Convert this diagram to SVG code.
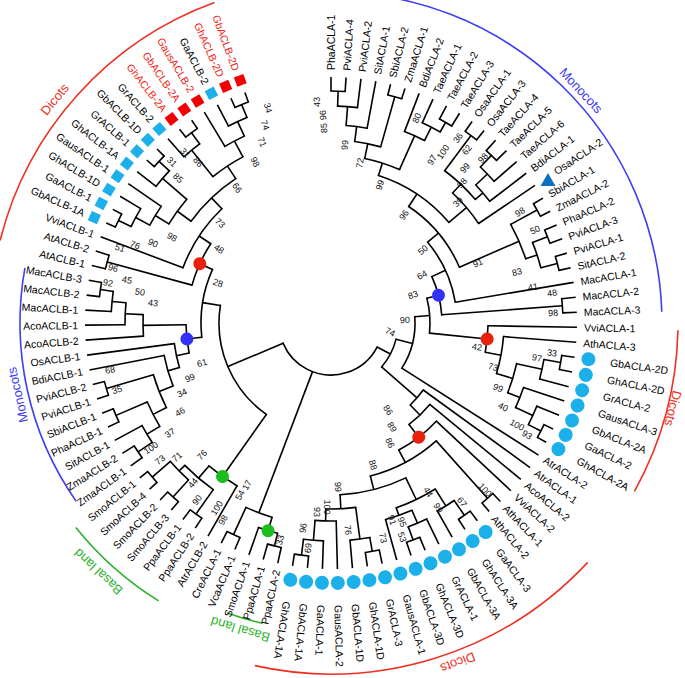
<svg xmlns="http://www.w3.org/2000/svg" width="685" height="678" viewBox="0 0 685 678">
<style>
.e path{fill:none;stroke:#000;stroke-width:1.6}
.a circle{fill:none;stroke:#000;stroke-width:1.6;stroke-linecap:square}
text{font-family:"Liberation Sans",Arial,sans-serif;dominant-baseline:central}
.lv text{font-size:10.5px;fill:#000}
.l{text-anchor:end}
.rd{fill:#ee1c14 !important}
.s text{font-size:9px;text-anchor:middle;fill:#111}
.gt{font-size:13px;text-anchor:middle;dominant-baseline:auto}
.ga{fill:none;stroke-width:1.6}
.cm{fill:#1cb0ea}
.dm{fill:#f20000}
</style>
<rect width="685" height="678" fill="#fff"/>
<g transform="translate(331,323)">
<g id="connectors">
<g class="e">
<path transform="rotate(117.55)" d="M0-52V-67"/>
<path transform="rotate(200.81)" d="M0-52V-203"/>
<path transform="rotate(247.1)" d="M0-52V-112"/>
<path transform="rotate(104.1)" d="M0-67V-84"/>
<path transform="rotate(130.99)" d="M0-67V-114"/>
<path transform="rotate(85.69)" d="M0-84V-99"/>
<path transform="rotate(122.5)" d="M0-84V-246"/>
<path transform="rotate(75.52)" d="M0-99V-111"/>
<path transform="rotate(95.87)" d="M0-99V-157"/>
<path transform="rotate(65.3)" d="M0-111V-126"/>
<path transform="rotate(85.75)" d="M0-111V-232"/>
<path transform="rotate(84)" d="M0-232V-246"/>
<path transform="rotate(87.5)" d="M0-232V-246"/>
<path transform="rotate(50.1)" d="M0-126V-140"/>
<path transform="rotate(80.5)" d="M0-126V-246"/>
<path transform="rotate(33.69)" d="M0-140V-155"/>
<path transform="rotate(66.5)" d="M0-140V-205"/>
<path transform="rotate(17.83)" d="M0-155V-168"/>
<path transform="rotate(49.55)" d="M0-155V-178"/>
<path transform="rotate(11.59)" d="M0-168V-183"/>
<path transform="rotate(24.06)" d="M0-168V-205"/>
<path transform="rotate(7.44)" d="M0-183V-198"/>
<path transform="rotate(15.75)" d="M0-183V-235"/>
<path transform="rotate(4.375)" d="M0-198V-217"/>
<path transform="rotate(10.5)" d="M0-198V-246"/>
<path transform="rotate(1.75)" d="M0-217V-232"/>
<path transform="rotate(7)" d="M0-217V-246"/>
<path transform="rotate(0)" d="M0-232V-246"/>
<path transform="rotate(3.5)" d="M0-232V-246"/>
<path transform="rotate(14)" d="M0-235V-246"/>
<path transform="rotate(17.5)" d="M0-235V-246"/>
<path transform="rotate(21)" d="M0-205V-246"/>
<path transform="rotate(27.125)" d="M0-205V-220"/>
<path transform="rotate(24.5)" d="M0-220V-246"/>
<path transform="rotate(29.75)" d="M0-220V-231"/>
<path transform="rotate(28)" d="M0-231V-246"/>
<path transform="rotate(31.5)" d="M0-231V-246"/>
<path transform="rotate(43.09)" d="M0-178V-190"/>
<path transform="rotate(56)" d="M0-178V-246"/>
<path transform="rotate(36.75)" d="M0-190V-234"/>
<path transform="rotate(49.44)" d="M0-190V-200"/>
<path transform="rotate(35)" d="M0-234V-246"/>
<path transform="rotate(38.5)" d="M0-234V-246"/>
<path transform="rotate(46.375)" d="M0-200V-216"/>
<path transform="rotate(52.5)" d="M0-200V-246"/>
<path transform="rotate(43.75)" d="M0-216V-232"/>
<path transform="rotate(49)" d="M0-216V-246"/>
<path transform="rotate(42)" d="M0-232V-246"/>
<path transform="rotate(45.5)" d="M0-232V-246"/>
<path transform="rotate(61.25)" d="M0-205V-235"/>
<path transform="rotate(71.75)" d="M0-205V-217"/>
<path transform="rotate(59.5)" d="M0-235V-246"/>
<path transform="rotate(63)" d="M0-235V-246"/>
<path transform="rotate(68.25)" d="M0-217V-233"/>
<path transform="rotate(75.25)" d="M0-217V-234"/>
<path transform="rotate(66.5)" d="M0-233V-246"/>
<path transform="rotate(70)" d="M0-233V-246"/>
<path transform="rotate(73.5)" d="M0-234V-246"/>
<path transform="rotate(77)" d="M0-234V-246"/>
<path transform="rotate(91)" d="M0-157V-246"/>
<path transform="rotate(100.73)" d="M0-157V-173"/>
<path transform="rotate(94.5)" d="M0-173V-246"/>
<path transform="rotate(106.97)" d="M0-173V-190"/>
<path transform="rotate(102.375)" d="M0-190V-216"/>
<path transform="rotate(111.56)" d="M0-190V-203"/>
<path transform="rotate(99.75)" d="M0-216V-233"/>
<path transform="rotate(105)" d="M0-216V-246"/>
<path transform="rotate(98)" d="M0-233V-246"/>
<path transform="rotate(101.5)" d="M0-233V-246"/>
<path transform="rotate(108.5)" d="M0-203V-246"/>
<path transform="rotate(114.625)" d="M0-203V-222"/>
<path transform="rotate(112)" d="M0-222V-246"/>
<path transform="rotate(117.25)" d="M0-222V-236"/>
<path transform="rotate(115.5)" d="M0-236V-246"/>
<path transform="rotate(119)" d="M0-236V-246"/>
<path transform="rotate(126)" d="M0-114V-246"/>
<path transform="rotate(135.98)" d="M0-114V-128"/>
<path transform="rotate(129.5)" d="M0-128V-246"/>
<path transform="rotate(142.46)" d="M0-128V-144"/>
<path transform="rotate(133)" d="M0-144V-246"/>
<path transform="rotate(151.92)" d="M0-144V-158"/>
<path transform="rotate(138.25)" d="M0-158V-235"/>
<path transform="rotate(165.59)" d="M0-158V-172"/>
<path transform="rotate(136.5)" d="M0-235V-246"/>
<path transform="rotate(140)" d="M0-235V-246"/>
<path transform="rotate(154.22)" d="M0-172V-196"/>
<path transform="rotate(176.97)" d="M0-172V-186"/>
<path transform="rotate(147.875)" d="M0-196V-216"/>
<path transform="rotate(160.5625)" d="M0-196V-204"/>
<path transform="rotate(145.25)" d="M0-216V-234"/>
<path transform="rotate(150.5)" d="M0-216V-246"/>
<path transform="rotate(143.5)" d="M0-234V-246"/>
<path transform="rotate(147)" d="M0-234V-246"/>
<path transform="rotate(156.625)" d="M0-204V-218"/>
<path transform="rotate(164.5)" d="M0-204V-246"/>
<path transform="rotate(154)" d="M0-218V-246"/>
<path transform="rotate(159.25)" d="M0-218V-232"/>
<path transform="rotate(157.5)" d="M0-232V-246"/>
<path transform="rotate(161)" d="M0-232V-246"/>
<path transform="rotate(172.375)" d="M0-186V-218"/>
<path transform="rotate(181.5625)" d="M0-186V-198"/>
<path transform="rotate(169.75)" d="M0-218V-232"/>
<path transform="rotate(175)" d="M0-218V-246"/>
<path transform="rotate(168)" d="M0-232V-246"/>
<path transform="rotate(171.5)" d="M0-232V-246"/>
<path transform="rotate(178.5)" d="M0-198V-246"/>
<path transform="rotate(184.625)" d="M0-198V-218"/>
<path transform="rotate(182)" d="M0-218V-246"/>
<path transform="rotate(187.25)" d="M0-218V-234"/>
<path transform="rotate(185.5)" d="M0-234V-246"/>
<path transform="rotate(189)" d="M0-234V-246"/>
<path transform="rotate(196.875)" d="M0-203V-217"/>
<path transform="rotate(204.75)" d="M0-203V-233"/>
<path transform="rotate(194.25)" d="M0-217V-230"/>
<path transform="rotate(199.5)" d="M0-217V-246"/>
<path transform="rotate(192.5)" d="M0-230V-246"/>
<path transform="rotate(196)" d="M0-230V-246"/>
<path transform="rotate(203)" d="M0-233V-246"/>
<path transform="rotate(206.5)" d="M0-233V-246"/>
<path transform="rotate(215.25)" d="M0-112V-188"/>
<path transform="rotate(279)" d="M0-112V-130"/>
<path transform="rotate(210)" d="M0-188V-246"/>
<path transform="rotate(220.5)" d="M0-188V-204"/>
<path transform="rotate(215.25)" d="M0-204V-234"/>
<path transform="rotate(225.75)" d="M0-204V-212"/>
<path transform="rotate(213.5)" d="M0-234V-246"/>
<path transform="rotate(217)" d="M0-234V-246"/>
<path transform="rotate(222.25)" d="M0-212V-235"/>
<path transform="rotate(229.25)" d="M0-212V-236"/>
<path transform="rotate(220.5)" d="M0-235V-246"/>
<path transform="rotate(224)" d="M0-235V-246"/>
<path transform="rotate(227.5)" d="M0-236V-246"/>
<path transform="rotate(231)" d="M0-236V-246"/>
<path transform="rotate(263.68)" d="M0-130V-145"/>
<path transform="rotate(294.33)" d="M0-130V-144"/>
<path transform="rotate(258.07)" d="M0-145V-158"/>
<path transform="rotate(269.28)" d="M0-145V-188"/>
<path transform="rotate(253.64)" d="M0-158V-170"/>
<path transform="rotate(262.5)" d="M0-158V-246"/>
<path transform="rotate(248.28)" d="M0-170V-185"/>
<path transform="rotate(259)" d="M0-170V-246"/>
<path transform="rotate(242.81)" d="M0-185V-200"/>
<path transform="rotate(253.75)" d="M0-185V-234"/>
<path transform="rotate(238.875)" d="M0-200V-215"/>
<path transform="rotate(246.75)" d="M0-200V-234"/>
<path transform="rotate(236.25)" d="M0-215V-232"/>
<path transform="rotate(241.5)" d="M0-215V-246"/>
<path transform="rotate(234.5)" d="M0-232V-246"/>
<path transform="rotate(238)" d="M0-232V-246"/>
<path transform="rotate(245)" d="M0-234V-246"/>
<path transform="rotate(248.5)" d="M0-234V-246"/>
<path transform="rotate(252)" d="M0-234V-246"/>
<path transform="rotate(255.5)" d="M0-234V-246"/>
<path transform="rotate(266)" d="M0-188V-246"/>
<path transform="rotate(272.56)" d="M0-188V-206"/>
<path transform="rotate(269.5)" d="M0-206V-246"/>
<path transform="rotate(275.625)" d="M0-206V-220"/>
<path transform="rotate(273)" d="M0-220V-246"/>
<path transform="rotate(278.25)" d="M0-220V-233"/>
<path transform="rotate(276.5)" d="M0-233V-246"/>
<path transform="rotate(280)" d="M0-233V-246"/>
<path transform="rotate(285.25)" d="M0-144V-232"/>
<path transform="rotate(303.4)" d="M0-144V-158"/>
<path transform="rotate(283.5)" d="M0-232V-246"/>
<path transform="rotate(287)" d="M0-232V-246"/>
<path transform="rotate(290.5)" d="M0-158V-246"/>
<path transform="rotate(316.31)" d="M0-158V-173"/>
<path transform="rotate(306.03)" d="M0-173V-190"/>
<path transform="rotate(326.59)" d="M0-173V-188"/>
<path transform="rotate(301.44)" d="M0-190V-206"/>
<path transform="rotate(310.625)" d="M0-190V-222"/>
<path transform="rotate(298.375)" d="M0-206V-222"/>
<path transform="rotate(304.5)" d="M0-206V-246"/>
<path transform="rotate(295.75)" d="M0-222V-236"/>
<path transform="rotate(301)" d="M0-222V-246"/>
<path transform="rotate(294)" d="M0-236V-246"/>
<path transform="rotate(297.5)" d="M0-236V-246"/>
<path transform="rotate(308)" d="M0-222V-246"/>
<path transform="rotate(313.25)" d="M0-222V-236"/>
<path transform="rotate(311.5)" d="M0-236V-246"/>
<path transform="rotate(315)" d="M0-236V-246"/>
<path transform="rotate(321.125)" d="M0-188V-222"/>
<path transform="rotate(332.06)" d="M0-188V-206"/>
<path transform="rotate(318.5)" d="M0-222V-246"/>
<path transform="rotate(323.75)" d="M0-222V-236"/>
<path transform="rotate(322)" d="M0-236V-246"/>
<path transform="rotate(325.5)" d="M0-236V-246"/>
<path transform="rotate(329)" d="M0-206V-246"/>
<path transform="rotate(335.125)" d="M0-206V-222"/>
<path transform="rotate(332.5)" d="M0-222V-246"/>
<path transform="rotate(337.75)" d="M0-222V-236"/>
<path transform="rotate(336)" d="M0-236V-246"/>
<path transform="rotate(339.5)" d="M0-236V-246"/>
</g>
<g class="a">
<circle r="52" transform="rotate(27.55)" stroke-dasharray="117.58 3000"/>
<circle r="67" transform="rotate(14.1)" stroke-dasharray="31.44 3000"/>
<circle r="84" transform="rotate(-4.31)" stroke-dasharray="53.97 3000"/>
<circle r="99" transform="rotate(-14.48)" stroke-dasharray="35.16 3000"/>
<circle r="111" transform="rotate(-24.7)" stroke-dasharray="39.62 3000"/>
<circle r="232" transform="rotate(-6)" stroke-dasharray="14.17 3000"/>
<circle r="126" transform="rotate(-39.9)" stroke-dasharray="66.85 3000"/>
<circle r="140" transform="rotate(-56.31)" stroke-dasharray="80.17 3000"/>
<circle r="155" transform="rotate(-72.17)" stroke-dasharray="85.81 3000"/>
<circle r="168" transform="rotate(-78.41)" stroke-dasharray="36.56 3000"/>
<circle r="183" transform="rotate(-82.56)" stroke-dasharray="26.54 3000"/>
<circle r="198" transform="rotate(-85.625)" stroke-dasharray="21.17 3000"/>
<circle r="217" transform="rotate(-88.25)" stroke-dasharray="19.88 3000"/>
<circle r="232" transform="rotate(-90)" stroke-dasharray="14.17 3000"/>
<circle r="235" transform="rotate(-76)" stroke-dasharray="14.36 3000"/>
<circle r="205" transform="rotate(-69)" stroke-dasharray="21.91 3000"/>
<circle r="220" transform="rotate(-65.5)" stroke-dasharray="20.16 3000"/>
<circle r="231" transform="rotate(-62)" stroke-dasharray="14.11 3000"/>
<circle r="178" transform="rotate(-46.91)" stroke-dasharray="40.11 3000"/>
<circle r="190" transform="rotate(-53.25)" stroke-dasharray="42.08 3000"/>
<circle r="234" transform="rotate(-55)" stroke-dasharray="14.29 3000"/>
<circle r="200" transform="rotate(-43.625)" stroke-dasharray="21.38 3000"/>
<circle r="216" transform="rotate(-46.25)" stroke-dasharray="19.79 3000"/>
<circle r="232" transform="rotate(-48)" stroke-dasharray="14.17 3000"/>
<circle r="205" transform="rotate(-28.75)" stroke-dasharray="37.57 3000"/>
<circle r="235" transform="rotate(-30.5)" stroke-dasharray="14.36 3000"/>
<circle r="217" transform="rotate(-21.75)" stroke-dasharray="26.51 3000"/>
<circle r="233" transform="rotate(-23.5)" stroke-dasharray="14.23 3000"/>
<circle r="234" transform="rotate(-16.5)" stroke-dasharray="14.29 3000"/>
<circle r="157" transform="rotate(1)" stroke-dasharray="26.66 3000"/>
<circle r="173" transform="rotate(4.5)" stroke-dasharray="37.65 3000"/>
<circle r="190" transform="rotate(12.375)" stroke-dasharray="30.46 3000"/>
<circle r="216" transform="rotate(9.75)" stroke-dasharray="19.79 3000"/>
<circle r="233" transform="rotate(8)" stroke-dasharray="14.23 3000"/>
<circle r="203" transform="rotate(18.5)" stroke-dasharray="21.7 3000"/>
<circle r="222" transform="rotate(22)" stroke-dasharray="20.34 3000"/>
<circle r="236" transform="rotate(25.5)" stroke-dasharray="14.42 3000"/>
<circle r="114" transform="rotate(36)" stroke-dasharray="19.86 3000"/>
<circle r="128" transform="rotate(39.5)" stroke-dasharray="28.95 3000"/>
<circle r="144" transform="rotate(43)" stroke-dasharray="47.55 3000"/>
<circle r="158" transform="rotate(48.25)" stroke-dasharray="75.39 3000"/>
<circle r="235" transform="rotate(46.5)" stroke-dasharray="14.36 3000"/>
<circle r="172" transform="rotate(64.22)" stroke-dasharray="68.29 3000"/>
<circle r="196" transform="rotate(57.875)" stroke-dasharray="43.4 3000"/>
<circle r="216" transform="rotate(55.25)" stroke-dasharray="19.79 3000"/>
<circle r="234" transform="rotate(53.5)" stroke-dasharray="14.29 3000"/>
<circle r="204" transform="rotate(66.625)" stroke-dasharray="28.04 3000"/>
<circle r="218" transform="rotate(64)" stroke-dasharray="19.98 3000"/>
<circle r="232" transform="rotate(67.5)" stroke-dasharray="14.17 3000"/>
<circle r="186" transform="rotate(82.375)" stroke-dasharray="29.83 3000"/>
<circle r="218" transform="rotate(79.75)" stroke-dasharray="19.98 3000"/>
<circle r="232" transform="rotate(78)" stroke-dasharray="14.17 3000"/>
<circle r="198" transform="rotate(88.5)" stroke-dasharray="21.17 3000"/>
<circle r="218" transform="rotate(92)" stroke-dasharray="19.98 3000"/>
<circle r="234" transform="rotate(95.5)" stroke-dasharray="14.29 3000"/>
<circle r="203" transform="rotate(106.875)" stroke-dasharray="27.9 3000"/>
<circle r="217" transform="rotate(104.25)" stroke-dasharray="19.88 3000"/>
<circle r="230" transform="rotate(102.5)" stroke-dasharray="14.05 3000"/>
<circle r="233" transform="rotate(113)" stroke-dasharray="14.23 3000"/>
<circle r="112" transform="rotate(125.25)" stroke-dasharray="124.62 3000"/>
<circle r="188" transform="rotate(120)" stroke-dasharray="34.45 3000"/>
<circle r="204" transform="rotate(125.25)" stroke-dasharray="37.38 3000"/>
<circle r="234" transform="rotate(123.5)" stroke-dasharray="14.29 3000"/>
<circle r="212" transform="rotate(132.25)" stroke-dasharray="25.9 3000"/>
<circle r="235" transform="rotate(130.5)" stroke-dasharray="14.36 3000"/>
<circle r="236" transform="rotate(137.5)" stroke-dasharray="14.42 3000"/>
<circle r="130" transform="rotate(173.68)" stroke-dasharray="69.54 3000"/>
<circle r="145" transform="rotate(168.07)" stroke-dasharray="28.37 3000"/>
<circle r="158" transform="rotate(163.64)" stroke-dasharray="24.43 3000"/>
<circle r="170" transform="rotate(158.28)" stroke-dasharray="31.81 3000"/>
<circle r="185" transform="rotate(152.81)" stroke-dasharray="35.32 3000"/>
<circle r="200" transform="rotate(148.875)" stroke-dasharray="27.49 3000"/>
<circle r="215" transform="rotate(146.25)" stroke-dasharray="19.7 3000"/>
<circle r="232" transform="rotate(144.5)" stroke-dasharray="14.17 3000"/>
<circle r="234" transform="rotate(155)" stroke-dasharray="14.29 3000"/>
<circle r="234" transform="rotate(162)" stroke-dasharray="14.29 3000"/>
<circle r="188" transform="rotate(176)" stroke-dasharray="21.52 3000"/>
<circle r="206" transform="rotate(179.5)" stroke-dasharray="22.02 3000"/>
<circle r="220" transform="rotate(183)" stroke-dasharray="20.16 3000"/>
<circle r="233" transform="rotate(186.5)" stroke-dasharray="14.23 3000"/>
<circle r="144" transform="rotate(195.25)" stroke-dasharray="45.62 3000"/>
<circle r="232" transform="rotate(193.5)" stroke-dasharray="14.17 3000"/>
<circle r="158" transform="rotate(200.5)" stroke-dasharray="71.17 3000"/>
<circle r="173" transform="rotate(216.03)" stroke-dasharray="62.08 3000"/>
<circle r="190" transform="rotate(211.44)" stroke-dasharray="30.46 3000"/>
<circle r="206" transform="rotate(208.375)" stroke-dasharray="22.02 3000"/>
<circle r="222" transform="rotate(205.75)" stroke-dasharray="20.34 3000"/>
<circle r="236" transform="rotate(204)" stroke-dasharray="14.42 3000"/>
<circle r="222" transform="rotate(218)" stroke-dasharray="20.34 3000"/>
<circle r="236" transform="rotate(221.5)" stroke-dasharray="14.42 3000"/>
<circle r="188" transform="rotate(231.125)" stroke-dasharray="35.88 3000"/>
<circle r="222" transform="rotate(228.5)" stroke-dasharray="20.34 3000"/>
<circle r="236" transform="rotate(232)" stroke-dasharray="14.42 3000"/>
<circle r="206" transform="rotate(239)" stroke-dasharray="22.02 3000"/>
<circle r="222" transform="rotate(242.5)" stroke-dasharray="20.34 3000"/>
<circle r="236" transform="rotate(246)" stroke-dasharray="14.42 3000"/>
</g>
</g>
<g id="group-arcs">
<circle class="ga" stroke="#ee3124" r="341" transform="rotate(194)" stroke-dasharray="333.3 3000"/>
<text class="gt" fill="#ee3124" transform="rotate(309)" y="-351">Dicots</text>
<circle class="ga" stroke="#3d3df2" r="331" transform="rotate(-90)" stroke-dasharray="508.4 3000"/>
<text class="gt" fill="#3d3df2" transform="rotate(47.1)" y="-337">Monocots</text>
<circle class="ga" stroke="#ee3124" r="347" transform="rotate(1.2)" stroke-dasharray="168.4 3000"/>
<text class="gt" fill="#ee3124" transform="rotate(104)" y="-348">Dicots</text>
<circle class="ga" stroke="#ee3124" r="351" transform="rotate(43)" stroke-dasharray="364.5 3000"/>
<text class="gt" fill="#ee3124" transform="rotate(159.5)" y="-358">Dicots</text>
<circle class="ga" stroke="#3d3df2" r="311" transform="rotate(145)" stroke-dasharray="245.3 3000"/>
<text class="gt" fill="#3d3df2" transform="rotate(257.1)" y="-317">Monocots</text>
<circle class="ga" stroke="#2db22d" r="327" transform="rotate(121.8)" stroke-dasharray="111.3 3000"/>
<text class="gt" fill="#2db22d" transform="rotate(223.1)" y="-336">Basal land</text>
<circle class="ga" stroke="#2db22d" r="308" transform="rotate(102.8)" stroke-dasharray="37.1 3000"/>
<text class="gt" fill="#2db22d" transform="rotate(196.5)" y="-315">Basal land</text>
</g>
<g id="node-markers">
<g id="dot-monoA"><circle r="6.5" cy="-111" transform="rotate(75.52)" fill="#3131f7"/></g>
<g id="dot-dicA1"><circle r="6.5" cy="-157" transform="rotate(95.87)" fill="#e8200c"/></g>
<g id="dot-dicA2"><circle r="6.5" cy="-144" transform="rotate(142.46)" fill="#e8200c"/></g>
<g id="dot-basalA"><circle r="6.5" cy="-217" transform="rotate(196.875)" fill="#1ebd1e"/></g>
<g id="dot-basalB"><circle r="6.5" cy="-188" transform="rotate(215.25)" fill="#1ebd1e"/></g>
<g id="dot-monoB"><circle r="6.5" cy="-145" transform="rotate(263.68)" fill="#3131f7"/></g>
<g id="dot-dicB"><circle r="6.5" cy="-144" transform="rotate(294.33)" fill="#e8200c"/></g>
</g>
<g id="leaves" class="lv">
<g id="PhaACLA-1"><text transform="rotate(-90)" x="253">PhaACLA-1</text></g>
<g id="PviACLA-4"><text transform="rotate(-86.5)" x="253">PviACLA-4</text></g>
<g id="PviACLA-2"><text transform="rotate(-83)" x="253">PviACLA-2</text></g>
<g id="SitACLA-1"><text transform="rotate(-79.5)" x="253">SitACLA-1</text></g>
<g id="SbiACLA-2"><text transform="rotate(-76)" x="253">SbiACLA-2</text></g>
<g id="ZmaACLA-1"><text transform="rotate(-72.5)" x="253">ZmaACLA-1</text></g>
<g id="BdiACLA-2"><text transform="rotate(-69)" x="253">BdiACLA-2</text></g>
<g id="TaeACLA-1"><text transform="rotate(-65.5)" x="253">TaeACLA-1</text></g>
<g id="TaeACLA-2"><text transform="rotate(-62)" x="253">TaeACLA-2</text></g>
<g id="TaeACLA-3"><text transform="rotate(-58.5)" x="253">TaeACLA-3</text></g>
<g id="OsaACLA-1"><text transform="rotate(-55)" x="253">OsaACLA-1</text></g>
<g id="OsaACLA-3"><text transform="rotate(-51.5)" x="253">OsaACLA-3</text></g>
<g id="TaeACLA-4"><text transform="rotate(-48)" x="253">TaeACLA-4</text></g>
<g id="TaeACLA-5"><text transform="rotate(-44.5)" x="253">TaeACLA-5</text></g>
<g id="TaeACLA-6"><text transform="rotate(-41)" x="253">TaeACLA-6</text></g>
<g id="BdiACLA-1"><text transform="rotate(-37.5)" x="253">BdiACLA-1</text></g>
<g id="OsaACLA-2"><polygon points="217,-150 209.5,-137 224.5,-137" fill="#0b6fc0"/><text transform="rotate(-34)" x="270">OsaACLA-2</text></g>
<g id="SbiACLA-1"><text transform="rotate(-30.5)" x="253">SbiACLA-1</text></g>
<g id="ZmaACLA-2"><text transform="rotate(-27)" x="253">ZmaACLA-2</text></g>
<g id="PhaACLA-2"><text transform="rotate(-23.5)" x="253">PhaACLA-2</text></g>
<g id="PviACLA-3"><text transform="rotate(-20)" x="253">PviACLA-3</text></g>
<g id="PviACLA-1"><text transform="rotate(-16.5)" x="253">PviACLA-1</text></g>
<g id="SitACLA-2"><text transform="rotate(-13)" x="253">SitACLA-2</text></g>
<g id="MacACLA-1"><text transform="rotate(-9.5)" x="253">MacACLA-1</text></g>
<g id="MacACLA-2"><text transform="rotate(-6)" x="253">MacACLA-2</text></g>
<g id="MacACLA-3"><text transform="rotate(-2.5)" x="253">MacACLA-3</text></g>
<g id="VviACLA-1"><text transform="rotate(1)" x="253">VviACLA-1</text></g>
<g id="AthACLA-3"><text transform="rotate(4.5)" x="253">AthACLA-3</text></g>
<g id="GbACLA-2D"><circle class="cm" r="7" cy="-260" transform="rotate(98)"/><text transform="rotate(8)" x="282">GbACLA-2D</text></g>
<g id="GhACLA-2D"><circle class="cm" r="7" cy="-260" transform="rotate(101.5)"/><text transform="rotate(11.5)" x="282">GhACLA-2D</text></g>
<g id="GrACLA-2"><circle class="cm" r="7" cy="-260" transform="rotate(105)"/><text transform="rotate(15)" x="282">GrACLA-2</text></g>
<g id="GausACLA-3"><circle class="cm" r="7" cy="-260" transform="rotate(108.5)"/><text transform="rotate(18.5)" x="282">GausACLA-3</text></g>
<g id="GbACLA-2A"><circle class="cm" r="7" cy="-260" transform="rotate(112)"/><text transform="rotate(22)" x="282">GbACLA-2A</text></g>
<g id="GaACLA-2"><circle class="cm" r="7" cy="-260" transform="rotate(115.5)"/><text transform="rotate(25.5)" x="282">GaACLA-2</text></g>
<g id="GhACLA-2A"><circle class="cm" r="7" cy="-260" transform="rotate(119)"/><text transform="rotate(29)" x="282">GhACLA-2A</text></g>
<g id="AtrACLA-2"><text transform="rotate(32.5)" x="253">AtrACLA-2</text></g>
<g id="AtrACLA-1"><text transform="rotate(36)" x="253">AtrACLA-1</text></g>
<g id="AcoACLA-2"><text transform="rotate(39.5)" x="253">AcoACLA-2</text></g>
<g id="VviACLA-2"><text transform="rotate(43)" x="253">VviACLA-2</text></g>
<g id="AthACLA-1"><text transform="rotate(46.5)" x="253">AthACLA-1</text></g>
<g id="AthACLA-2"><text transform="rotate(50)" x="253">AthACLA-2</text></g>
<g id="GaACLA-3"><circle class="cm" r="7" cy="-260" transform="rotate(143.5)"/><text transform="rotate(53.5)" x="282">GaACLA-3</text></g>
<g id="GhACLA-3A"><circle class="cm" r="7" cy="-260" transform="rotate(147)"/><text transform="rotate(57)" x="282">GhACLA-3A</text></g>
<g id="GbACLA-3A"><circle class="cm" r="7" cy="-260" transform="rotate(150.5)"/><text transform="rotate(60.5)" x="282">GbACLA-3A</text></g>
<g id="GrACLA-1"><circle class="cm" r="7" cy="-260" transform="rotate(154)"/><text transform="rotate(64)" x="282">GrACLA-1</text></g>
<g id="GhACLA-3D"><circle class="cm" r="7" cy="-260" transform="rotate(157.5)"/><text transform="rotate(67.5)" x="282">GhACLA-3D</text></g>
<g id="GbACLA-3D"><circle class="cm" r="7" cy="-260" transform="rotate(161)"/><text transform="rotate(71)" x="282">GbACLA-3D</text></g>
<g id="GausACLA-1"><circle class="cm" r="7" cy="-260" transform="rotate(164.5)"/><text transform="rotate(74.5)" x="282">GausACLA-1</text></g>
<g id="GrACLA-3"><circle class="cm" r="7" cy="-260" transform="rotate(168)"/><text transform="rotate(78)" x="282">GrACLA-3</text></g>
<g id="GhACLA-1D"><circle class="cm" r="7" cy="-260" transform="rotate(171.5)"/><text transform="rotate(81.5)" x="282">GhACLA-1D</text></g>
<g id="GbACLA-1D"><circle class="cm" r="7" cy="-260" transform="rotate(175)"/><text transform="rotate(85)" x="282">GbACLA-1D</text></g>
<g id="GausACLA-2"><circle class="cm" r="7" cy="-260" transform="rotate(178.5)"/><text transform="rotate(88.5)" x="282">GausACLA-2</text></g>
<g id="GaACLA-1"><circle class="cm" r="7" cy="-260" transform="rotate(182)"/><text transform="rotate(92)" x="282">GaACLA-1</text></g>
<g id="GbACLA-1A"><circle class="cm" r="7" cy="-260" transform="rotate(185.5)"/><text transform="rotate(95.5)" x="282">GbACLA-1A</text></g>
<g id="GhACLA-1A"><circle class="cm" r="7" cy="-260" transform="rotate(189)"/><text transform="rotate(99)" x="282">GhACLA-1A</text></g>
<g id="PpaACLA-2"><text class="l" transform="rotate(-77.5)" x="-253">PpaACLA-2</text></g>
<g id="PpaACLA-1"><text class="l" transform="rotate(-74)" x="-253">PpaACLA-1</text></g>
<g id="SmoACLA-1"><text class="l" transform="rotate(-70.5)" x="-253">SmoACLA-1</text></g>
<g id="VcaACLA-1"><text class="l" transform="rotate(-67)" x="-253">VcaACLA-1</text></g>
<g id="CreACLA-1"><text class="l" transform="rotate(-63.5)" x="-253">CreACLA-1</text></g>
<g id="AtrACLB-2"><text class="l" transform="rotate(-60)" x="-253">AtrACLB-2</text></g>
<g id="PpaACLB-2"><text class="l" transform="rotate(-56.5)" x="-253">PpaACLB-2</text></g>
<g id="PpaACLB-1"><text class="l" transform="rotate(-53)" x="-253">PpaACLB-1</text></g>
<g id="SmoACLB-3"><text class="l" transform="rotate(-49.5)" x="-253">SmoACLB-3</text></g>
<g id="SmoACLB-2"><text class="l" transform="rotate(-46)" x="-253">SmoACLB-2</text></g>
<g id="SmoACLB-4"><text class="l" transform="rotate(-42.5)" x="-253">SmoACLB-4</text></g>
<g id="SmoACLB-1"><text class="l" transform="rotate(-39)" x="-253">SmoACLB-1</text></g>
<g id="ZmaACLB-1"><text class="l" transform="rotate(-35.5)" x="-253">ZmaACLB-1</text></g>
<g id="ZmaACLB-2"><text class="l" transform="rotate(-32)" x="-253">ZmaACLB-2</text></g>
<g id="SitACLB-1"><text class="l" transform="rotate(-28.5)" x="-253">SitACLB-1</text></g>
<g id="PhaACLB-1"><text class="l" transform="rotate(-25)" x="-253">PhaACLB-1</text></g>
<g id="SbiACLB-1"><text class="l" transform="rotate(-21.5)" x="-253">SbiACLB-1</text></g>
<g id="PviACLB-1"><text class="l" transform="rotate(-18)" x="-253">PviACLB-1</text></g>
<g id="PviACLB-2"><text class="l" transform="rotate(-14.5)" x="-253">PviACLB-2</text></g>
<g id="BdiACLB-1"><text class="l" transform="rotate(-11)" x="-253">BdiACLB-1</text></g>
<g id="OsACLB-1"><text class="l" transform="rotate(-7.5)" x="-253">OsACLB-1</text></g>
<g id="AcoACLB-2"><text class="l" transform="rotate(-4)" x="-253">AcoACLB-2</text></g>
<g id="AcoACLB-1"><text class="l" transform="rotate(-0.5)" x="-253">AcoACLB-1</text></g>
<g id="MacACLB-1"><text class="l" transform="rotate(3)" x="-253">MacACLB-1</text></g>
<g id="MacACLB-2"><text class="l" transform="rotate(6.5)" x="-253">MacACLB-2</text></g>
<g id="MacACLB-3"><text class="l" transform="rotate(10)" x="-253">MacACLB-3</text></g>
<g id="AtACLB-1"><text class="l" transform="rotate(13.5)" x="-253">AtACLB-1</text></g>
<g id="AtACLB-2"><text class="l" transform="rotate(17)" x="-253">AtACLB-2</text></g>
<g id="VviACLB-1"><text class="l" transform="rotate(20.5)" x="-253">VviACLB-1</text></g>
<g id="GbACLB-1A"><rect class="cm" x="-5" y="-264" width="10" height="10" transform="rotate(294)"/><text class="l" transform="rotate(24)" x="-270">GbACLB-1A</text></g>
<g id="GaACLB-1"><rect class="cm" x="-5" y="-264" width="10" height="10" transform="rotate(297.5)"/><text class="l" transform="rotate(27.5)" x="-270">GaACLB-1</text></g>
<g id="GhACLB-1D"><rect class="cm" x="-5" y="-264" width="10" height="10" transform="rotate(301)"/><text class="l" transform="rotate(31)" x="-270">GhACLB-1D</text></g>
<g id="GausACLB-1"><rect class="cm" x="-5" y="-264" width="10" height="10" transform="rotate(304.5)"/><text class="l" transform="rotate(34.5)" x="-270">GausACLB-1</text></g>
<g id="GhACLB-1A"><rect class="cm" x="-5" y="-264" width="10" height="10" transform="rotate(308)"/><text class="l" transform="rotate(38)" x="-270">GhACLB-1A</text></g>
<g id="GrACLB-1"><rect class="cm" x="-5" y="-264" width="10" height="10" transform="rotate(311.5)"/><text class="l" transform="rotate(41.5)" x="-270">GrACLB-1</text></g>
<g id="GbACLB-1D"><rect class="cm" x="-5" y="-264" width="10" height="10" transform="rotate(315)"/><text class="l" transform="rotate(45)" x="-270">GbACLB-1D</text></g>
<g id="GrACLB-2"><rect class="cm" x="-5" y="-264" width="10" height="10" transform="rotate(318.5)"/><text class="l" transform="rotate(48.5)" x="-270">GrACLB-2</text></g>
<g id="GhACLB-2A"><rect class="dm" x="-5" y="-264" width="10" height="10" transform="rotate(322)"/><text class="l rd" transform="rotate(52)" x="-270">GhACLB-2A</text></g>
<g id="GbACLB-2A"><rect class="dm" x="-5" y="-264" width="10" height="10" transform="rotate(325.5)"/><text class="l rd" transform="rotate(55.5)" x="-270">GbACLB-2A</text></g>
<g id="GausACLB-2"><rect class="dm" x="-5" y="-264" width="10" height="10" transform="rotate(329)"/><text class="l rd" transform="rotate(59)" x="-270">GausACLB-2</text></g>
<g id="GaACLB-2"><rect class="cm" x="-5" y="-264" width="10" height="10" transform="rotate(332.5)"/><text class="l" transform="rotate(62.5)" x="-270">GaACLB-2</text></g>
<g id="GhACLB-2D"><rect class="dm" x="-5" y="-264" width="10" height="10" transform="rotate(336)"/><text class="l rd" transform="rotate(66)" x="-270">GhACLB-2D</text></g>
<g id="GbACLB-2D"><rect class="dm" x="-5" y="-264" width="10" height="10" transform="rotate(339.5)"/><text class="l rd" transform="rotate(69.5)" x="-270">GbACLB-2D</text></g>
</g>
<g id="support" class="s">
<text x="-14" y="-221" transform="rotate(-93.6 -14 -221)">43</text>
<text x="-8" y="-208" transform="rotate(-92.2 -8 -208)">96</text>
<text x="-7" y="-195" transform="rotate(-92.1 -7 -195)">85</text>
<text x="14" y="-178" transform="rotate(-85.5 14 -178)">99</text>
<text x="29" y="-160" transform="rotate(-79.7 29 -160)">72</text>
<text x="49" y="-138" transform="rotate(-70.5 49 -138)">99</text>
<text x="73" y="-108" transform="rotate(-56 73 -108)">96</text>
<text x="86" y="-205" transform="rotate(-67.2 86 -205)">80</text>
<text x="101" y="-163" transform="rotate(-58.2 101 -163)">97</text>
<text x="112" y="-171" transform="rotate(-56.8 112 -171)">100</text>
<text x="127" y="-185" transform="rotate(-55.5 127 -185)">36</text>
<text x="136" y="-173" transform="rotate(-51.8 136 -173)">62</text>
<text x="134" y="-155" transform="rotate(-49.2 134 -155)">99</text>
<text x="152" y="-165" transform="rotate(-47.4 152 -165)">98</text>
<text x="131" y="-140" transform="rotate(-46.9 131 -140)">98</text>
<text x="127" y="-121" transform="rotate(-43.6 127 -121)">39</text>
<text x="92" y="-73" transform="rotate(-38.4 92 -73)">50</text>
<text x="91" y="-48" transform="rotate(-27.8 91 -48)">64</text>
<text x="82" y="-28" transform="rotate(-18.9 82 -28)">83</text>
<text x="189" y="-111" transform="rotate(-30.4 189 -111)">98</text>
<text x="204" y="-93" transform="rotate(-24.5 204 -93)">50</text>
<text x="147" y="-60" transform="rotate(-22.2 147 -60)">91</text>
<text x="186" y="-51" transform="rotate(-15.3 186 -51)">83</text>
<text x="202" y="-36" transform="rotate(-10.1 202 -36)">41</text>
<text x="221" y="-30" transform="rotate(-7.7 221 -30)">48</text>
<text x="222" y="-10" transform="rotate(-2.6 222 -10)">98</text>
<text x="74" y="-3" transform="rotate(-2.3 74 -3)">90</text>
<text x="59" y="9" transform="rotate(27 59 9)">74</text>
<text x="146" y="24" transform="rotate(9.3 146 24)">42</text>
<text x="162" y="44" transform="rotate(15 162 44)">73</text>
<text x="167" y="65" transform="rotate(21.3 167 65)">99</text>
<text x="206" y="35" transform="rotate(9.6 206 35)">97</text>
<text x="221" y="30" transform="rotate(7.7 221 30)">33</text>
<text x="172" y="84" transform="rotate(26 172 84)">40</text>
<text x="186" y="102" transform="rotate(28.7 186 102)">100</text>
<text x="196" y="112" transform="rotate(29.7 196 112)">93</text>
<text x="57" y="87" transform="rotate(56.8 57 87)">86</text>
<text x="61" y="104" transform="rotate(59.6 61 104)">89</text>
<text x="59" y="120" transform="rotate(63.8 59 120)">86</text>
<text x="42" y="142" transform="rotate(73.5 42 142)">88</text>
<text x="7" y="164" transform="rotate(87.6 7 164)">99</text>
<text x="-4" y="184" transform="rotate(91.2 -4 184)">100</text>
<text x="-14" y="189" transform="rotate(94.2 -14 189)">93</text>
<text x="-28" y="205" transform="rotate(97.8 -28 205)">96</text>
<text x="-23" y="225" transform="rotate(95.8 -23 225)">69</text>
<text x="17" y="207" transform="rotate(85.3 17 207)">76</text>
<text x="52" y="215" transform="rotate(76.4 52 215)">73</text>
<text x="61" y="197" transform="rotate(72.8 61 197)">91</text>
<text x="71" y="199" transform="rotate(70.4 71 199)">95</text>
<text x="71" y="214" transform="rotate(71.6 71 214)">53</text>
<text x="97" y="169" transform="rotate(60 97 169)">44</text>
<text x="107" y="185" transform="rotate(60 107 185)">99</text>
<text x="131" y="179" transform="rotate(53.8 131 179)">67</text>
<text x="154" y="167" transform="rotate(47.3 154 167)">100</text>
<text x="-91" y="172" transform="rotate(-62.1 -91 172)">54</text>
<text x="-84" y="162" transform="rotate(-62.6 -84 162)">17</text>
<text x="-51" y="217" transform="rotate(-76.8 -51 217)">33</text>
<text x="-108" y="197" transform="rotate(-61.3 -108 197)">98</text>
<text x="-114" y="185" transform="rotate(-58.4 -114 185)">100</text>
<text x="-129" y="132" transform="rotate(-45.6 -129 132)">76</text>
<text x="-154" y="134" transform="rotate(-41 -154 134)">71</text>
<text x="-171" y="137" transform="rotate(-38.7 -171 137)">73</text>
<text x="-138" y="160" transform="rotate(-49.2 -138 160)">44</text>
<text x="-134" y="177" transform="rotate(-52.9 -134 177)">90</text>
<text x="-180" y="125" transform="rotate(-35.2 -180 125)">100</text>
<text x="-161" y="110" transform="rotate(-34.3 -161 110)">37</text>
<text x="-151" y="89" transform="rotate(-30.5 -151 89)">46</text>
<text x="-149" y="70" transform="rotate(-25.2 -149 70)">34</text>
<text x="-141" y="55" transform="rotate(-21.3 -141 55)">99</text>
<text x="-129" y="40" transform="rotate(-17.2 -129 40)">61</text>
<text x="-214" y="67" transform="rotate(-17.4 -214 67)">35</text>
<text x="-221" y="47" transform="rotate(-12 -221 47)">68</text>
<text x="-178" y="-20" transform="rotate(6.4 -178 -20)">43</text>
<text x="-191" y="-31" transform="rotate(9.2 -191 -31)">50</text>
<text x="-204" y="-43" transform="rotate(11.9 -204 -43)">45</text>
<text x="-223" y="-40" transform="rotate(10.2 -223 -40)">92</text>
<text x="-218" y="-55" transform="rotate(14.2 -218 -55)">96</text>
<text x="-211" y="-75" transform="rotate(19.6 -211 -75)">51</text>
<text x="-196" y="-78" transform="rotate(21.7 -196 -78)">76</text>
<text x="-178" y="-80" transform="rotate(24.2 -178 -80)">90</text>
<text x="-159" y="-86" transform="rotate(28.4 -159 -86)">98</text>
<text x="-113" y="-40" transform="rotate(19.5 -113 -40)">28</text>
<text x="-112" y="-74" transform="rotate(33.4 -112 -74)">48</text>
<text x="-111" y="-100" transform="rotate(42 -111 -100)">73</text>
<text x="-94" y="-135" transform="rotate(55.1 -94 -135)">66</text>
<text x="-153" y="-145" transform="rotate(43.5 -153 -145)">85</text>
<text x="-159" y="-161" transform="rotate(45.4 -159 -161)">31</text>
<text x="-146" y="-170" transform="rotate(49.3 -146 -170)">31</text>
<text x="-133" y="-161" transform="rotate(50.4 -133 -161)">86</text>
<text x="-76" y="-161" transform="rotate(64.7 -76 -161)">98</text>
<text x="-69" y="-181" transform="rotate(69.1 -69 -181)">71</text>
<text x="-66" y="-198" transform="rotate(71.6 -66 -198)">74</text>
<text x="-63" y="-215" transform="rotate(73.7 -63 -215)">34</text>
</g>
</g>
</svg>
